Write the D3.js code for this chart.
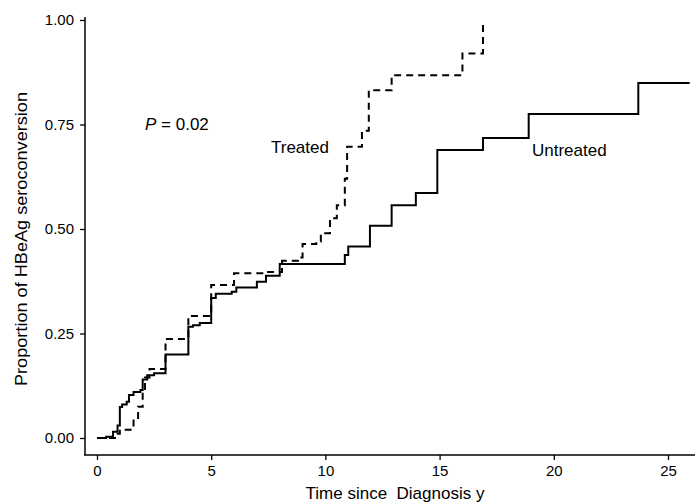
<!DOCTYPE html>
<html><head><meta charset="utf-8">
<script src="https://cdn.jsdelivr.net/npm/d3@7"></script>
<style>body{margin:0;background:#fff}svg{display:block;font-family:"Liberation Sans",Arial,sans-serif}</style>
</head><body>
<svg id="c" width="695" height="504"></svg>
<script>
const treatedTimes = [0, 0.9, 1.0, 1.6, 1.8, 2.0, 2.1, 2.3, 3.0, 4.0, 5.0, 6.0, 7.3, 8.1, 8.8, 9.0, 9.6, 9.8, 10.2, 10.5, 10.85, 10.95, 11.6, 11.9, 12.9, 16.0, 16.9];
const treatedValues = [0, 0.01, 0.02, 0.045, 0.075, 0.11, 0.145, 0.165, 0.237, 0.292, 0.366, 0.394, 0.397, 0.424, 0.432, 0.464, 0.47, 0.49, 0.526, 0.557, 0.62, 0.697, 0.735, 0.832, 0.868, 0.92, 1.0];
const treatedEnd = 16.9;
const untreatedTimes = [0, 0.4, 0.7, 0.9, 1.0, 1.1, 1.3, 1.4, 1.6, 1.9, 2.0, 2.2, 2.5, 3.0, 4.0, 4.2, 4.5, 5.0, 5.2, 5.9, 6.1, 7.0, 7.4, 8.0, 10.85, 11.0, 11.95, 12.9, 13.96, 14.9, 16.9, 18.9, 23.7];
const untreatedValues = [0, 0.003, 0.015, 0.03, 0.074, 0.08, 0.087, 0.103, 0.11, 0.115, 0.14, 0.15, 0.155, 0.20, 0.266, 0.27, 0.275, 0.335, 0.345, 0.35, 0.36, 0.374, 0.388, 0.416, 0.438, 0.458, 0.508, 0.557, 0.586, 0.689, 0.718, 0.775, 0.849];
const untreatedEnd = 25.95;
const xTicks = [0, 5, 10, 15, 20, 25];
const yTicks = [0, 0.25, 0.5, 0.75, 1.0];

const svg = d3.select("#c");
const x = d3.scaleLinear().domain([0, 25]).range([97, 668]);
const y = d3.scaleLinear().domain([0, 1]).range([438, 20]);
const FF = "Liberation Sans, Arial, sans-serif";

// axes
const yAxis = d3.axisLeft(y).tickValues(yTicks).tickFormat(d3.format(".2f")).tickSize(5).tickPadding(6);
const gy = svg.append("g").attr("transform", "translate(85,0)").call(yAxis);
gy.select(".domain").remove();
gy.append("line").attr("x1", 0).attr("x2", 0).attr("y1", 17).attr("y2", 455).attr("stroke", "#000").attr("stroke-width", 1.5);
gy.selectAll("text").attr("font-size", 15).attr("fill", "#000").attr("font-family", FF);
gy.selectAll(".tick line").attr("stroke-width", 1.3);

const xAxis = d3.axisBottom(x).tickValues(xTicks).tickFormat(d3.format("d")).tickSize(5).tickPadding(5);
const gx = svg.append("g").attr("transform", "translate(0,455)").call(xAxis);
gx.select(".domain").remove();
gx.append("line").attr("x1", 84).attr("x2", 695).attr("y1", 0).attr("y2", 0).attr("stroke", "#000").attr("stroke-width", 1.5);
gx.selectAll("text").attr("font-size", 15).attr("fill", "#000").attr("font-family", FF);
gx.selectAll(".tick line").attr("stroke-width", 1.3);

// step curves
function pts(times, vals, end) {
  const p = times.map((t, i) => [t, vals[i]]);
  p.push([end, vals[vals.length - 1]]);
  return p;
}
const line = d3.line().x(d => x(d[0])).y(d => y(d[1])).curve(d3.curveStepAfter);
svg.append("path").datum(pts(untreatedTimes, untreatedValues, untreatedEnd))
  .attr("d", line).attr("fill", "none").attr("stroke", "#000").attr("stroke-width", 2);
svg.append("path").datum(pts(treatedTimes, treatedValues, treatedEnd))
  .attr("d", line).attr("fill", "none").attr("stroke", "#000").attr("stroke-width", 2)
  .attr("stroke-dasharray", "7,5");

// labels
const pt = svg.append("text").attr("x", 145).attr("y", 130).attr("font-size", 17).attr("fill", "#000");
pt.append("tspan").attr("font-style", "italic").text("P");
pt.append("tspan").text(" = 0.02");
svg.append("text").attr("x", 271).attr("y", 153).attr("font-size", 17).text("Treated");
svg.append("text").attr("x", 532).attr("y", 156).attr("font-size", 17).text("Untreated");

svg.append("text").attr("x", 395).attr("y", 499).attr("text-anchor", "middle").attr("font-size", 17)
  .style("white-space", "pre").text("Time since  Diagnosis y");
svg.append("text").attr("transform", "translate(27,239) rotate(-90)").attr("text-anchor", "middle")
  .attr("font-size", 17).attr("textLength", 294).attr("lengthAdjust", "spacingAndGlyphs")
  .text("Proportion of HBeAg seroconversion");
</script>
</body></html>
